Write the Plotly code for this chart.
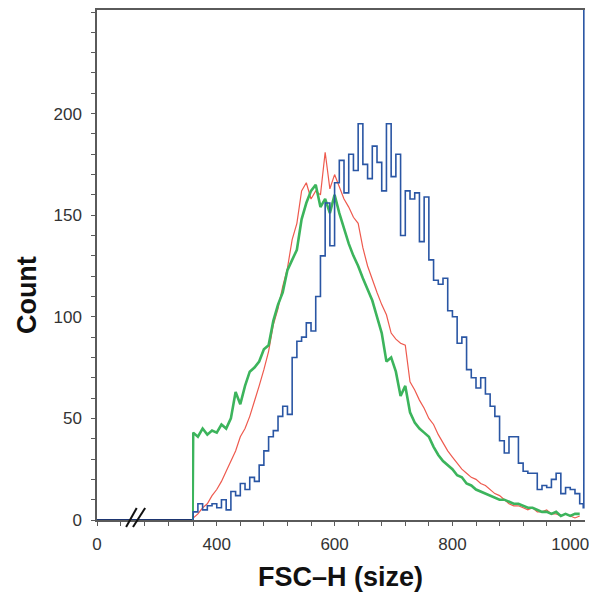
import plotly.graph_objects as go

# channel positions (FSC-H) for the gated region
x_channels = [360, 368, 376, 384, 392, 400, 408, 416, 424, 432, 440, 448, 456, 464, 472, 480,
              488, 496, 504, 512, 520, 528, 536, 544, 552, 560, 568, 576, 584, 592, 600, 608,
              616, 624, 632, 640, 648, 656, 664, 672, 680, 688, 696, 704, 712, 720, 728, 736,
              744, 752, 760, 768, 776, 784, 792, 800, 808, 816, 824, 832, 840, 848, 856, 864,
              872, 880, 888, 896, 904, 912, 920, 928, 936, 944, 952, 960, 968, 976, 984, 992,
              1000, 1008, 1016]

green_counts = [43, 41, 45, 42, 44, 43, 47, 45, 50, 63, 57, 66, 73, 75, 78, 84,
                86, 98, 106, 112, 123, 128, 133, 148, 156, 162, 165, 154, 158, 151, 160, 151,
                143, 136, 130, 125, 119, 113, 108, 100, 92, 78, 80, 73, 61, 66, 53, 48,
                45, 43, 41, 36, 32, 29, 27, 25, 22, 21, 18, 17, 15, 14, 13, 12,
                11, 10, 10, 9, 8, 8, 7, 6, 6, 5, 4, 4, 3, 4, 2, 3,
                2, 3, 3]

red_counts = [1, 3, 6, 8, 12, 15, 19, 24, 29, 34, 41, 45, 51, 58, 66, 74,
              83, 96, 104, 115, 124, 138, 146, 162, 166, 158, 162, 160, 181, 163, 170, 164,
              158, 154, 149, 146, 134, 125, 118, 112, 106, 101, 92, 89, 87, 86, 68, 64,
              59, 55, 50, 47, 42, 38, 34, 31, 28, 25, 23, 21, 20, 18, 17, 15,
              13, 12, 10, 8, 7, 7, 6, 5, 6, 4, 4, 5, 3, 3, 2, 3,
              2, 1, 2]

blue_counts = [4, 8, 5, 7, 8, 6, 10, 5, 14, 12, 18, 15, 21, 19, 27, 34,
               41, 44, 51, 56, 52, 80, 88, 90, 97, 93, 110, 130, 156, 135, 166, 177,
               161, 180, 172, 195, 175, 168, 184, 176, 162, 195, 169, 180, 140, 162, 158, 161,
               137, 159, 128, 118, 116, 119, 103, 100, 87, 90, 74, 70, 65, 70, 62, 56,
               51, 39, 33, 41, 41, 28, 24, 23, 23, 15, 17, 16, 20, 23, 13, 16,
               15, 13, 8]

# threshold start and overflow channel
start_channel = 359
last_channel = 1022
last_count = 6
overflow_channel = 1023
overflow_count = 400

# ungated (below threshold) part of the axis: zero counts
low_x = [0, 359]
low_y = [0, 0]

x_tick_vals = list(range(360, 1001, 40))
x_tick_text = [str(v) if v % 200 == 0 else "" for v in x_tick_vals]
low_tick_vals = [0, 90, 180, 270]
low_tick_text = ["0", "", "", ""]
y_tick_vals = list(range(0, 251, 10))
y_tick_text = [str(v) if (v % 50 == 0 and v <= 200) else "" for v in y_tick_vals]

RED = "#ee5a4e"
GREEN = "#3cb45c"
BLUE = "#2a56a4"
NAVY = "#1d3570"
AX = "#5a5a5a"
FONT = "Liberation Sans, Arial, sans-serif"

fig = go.Figure()

# left (broken) segment
for col, w in [(RED, 1.2), (GREEN, 2.2), (NAVY, 2.0)]:
    fig.add_trace(go.Scatter(x=low_x, y=low_y, mode="lines", line=dict(color=col, width=w),
                             xaxis="x", yaxis="y", showlegend=False, hoverinfo="skip"))

fig.add_trace(go.Scatter(x=[start_channel] + x_channels, y=[0] + red_counts, mode="lines",
                         line=dict(color=RED, width=1.2), xaxis="x2", yaxis="y",
                         showlegend=False))
fig.add_trace(go.Scatter(x=[start_channel] + x_channels, y=[0] + green_counts, mode="lines",
                         line=dict(color=GREEN, width=2.6), xaxis="x2", yaxis="y",
                         showlegend=False))
fig.add_trace(go.Scatter(x=[start_channel] + x_channels + [last_channel, overflow_channel],
                         y=[0] + blue_counts + [last_count, overflow_count], mode="lines",
                         line=dict(color=BLUE, width=1.6, shape="hv"), xaxis="x2", yaxis="y",
                         showlegend=False))

split = 95 / 488

axis_common = dict(showline=True, linecolor=AX, linewidth=1.5, ticks="outside",
                   ticklen=4, tickcolor=AX, tickwidth=1, showgrid=False, zeroline=False,
                   tickfont=dict(family=FONT, size=17, color="#333333"),
                   mirror=True, ticklabelstandoff=4, ticklabeloverflow="allow")

fig.update_layout(
    width=589, height=594,
    margin=dict(l=97, r=4, t=10, b=74, autoexpand=False),
    plot_bgcolor="white", paper_bgcolor="white",
    xaxis=dict(domain=[0, split], range=[0, 359], tickmode="array",
               tickvals=low_tick_vals, ticktext=low_tick_text, anchor="y", **axis_common),
    xaxis2=dict(domain=[split, 1], range=[358, 1025], tickmode="array",
                tickvals=x_tick_vals, ticktext=x_tick_text, anchor="y", **axis_common),
    yaxis=dict(range=[0, 251], tickmode="array", tickvals=y_tick_vals, ticktext=y_tick_text,
               showline=True, linecolor=AX, linewidth=1.5, ticks="outside", ticklen=4,
               tickcolor=AX, tickwidth=1, showgrid=False, zeroline=False,
               tickfont=dict(family=FONT, size=17, color="#333333"),
               ticklabelstandoff=6),
    annotations=[
        dict(text="<b>Count</b>", xref="paper", yref="paper", x=-0.1434, y=0.441,
             textangle=-90, showarrow=False, font=dict(family=FONT, size=27, color="#111111"),
             xanchor="center", yanchor="middle"),
        dict(text="<b>FSC–H (size)</b>", xref="paper", yref="paper", x=0.498, y=-0.1118,
             showarrow=False, font=dict(family=FONT, size=27, color="#111111"),
             xanchor="center", yanchor="middle"),
    ],
    shapes=[
        dict(type="line", xref="x", yref="paper", x0=110, x1=150, y0=-0.0137, y1=0.0235,
             line=dict(color="#111111", width=2)),
        dict(type="line", xref="x", yref="paper", x0=136, x1=182, y0=-0.0137, y1=0.0235,
             line=dict(color="#111111", width=2)),
    ],
)

# remove the page's default body margin so the 589x594 figure fills the window exactly
fig.write_html("out.html", config={"displayModeBar": False},
               post_script="document.body.style.margin='0';document.body.style.overflow='hidden';")
